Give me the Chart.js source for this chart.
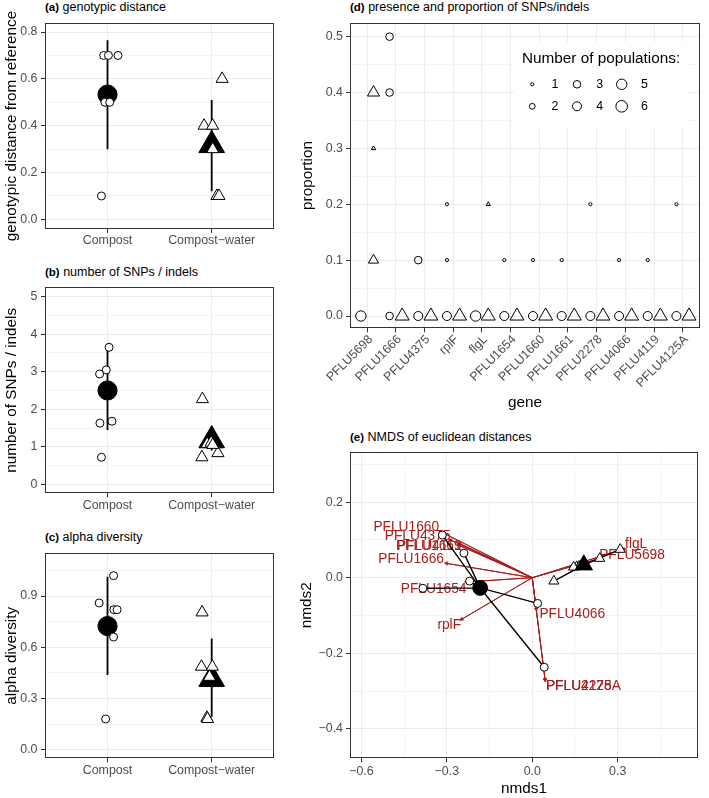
<!DOCTYPE html>
<html>
<head>
<meta charset="utf-8">
<script src="https://cdn.jsdelivr.net/npm/chart.js@4.4.1/dist/chart.umd.min.js"></script>
<style>
  body { margin: 0; background: #fff; width: 709px; height: 798px; position: relative; overflow: hidden;
         font-family: "Liberation Sans", Arial, Helvetica, sans-serif; }
  canvas { position: absolute; }
  .ttl { position: absolute; font-size: 12.5px; line-height: 16px; color: #000; white-space: nowrap; }
  .ttl b { font-size: 11.5px; }
</style>
</head>
<body>
<div class="ttl" style="left:45px;top:-1px"><b>(a)</b> genotypic distance</div>
<div class="ttl" style="left:45px;top:264px"><b>(b)</b> number of SNPs / indels</div>
<div class="ttl" style="left:45px;top:529px"><b>(c)</b> alpha diversity</div>
<div class="ttl" style="left:350px;top:-1px"><b>(d)</b> presence and proportion of SNPs/indels</div>
<div class="ttl" style="left:350px;top:429px"><b>(e)</b> NMDS of euclidean distances</div>

<canvas id="pa" width="290" height="260" style="left:0;top:0"></canvas>
<canvas id="pb" width="290" height="265" style="left:0;top:260px"></canvas>
<canvas id="pc" width="290" height="273" style="left:0;top:525px"></canvas>
<canvas id="pd" width="419" height="415" style="left:290px;top:0"></canvas>
<canvas id="pe" width="419" height="383" style="left:290px;top:415px"></canvas>

<script>
// ---- data ----
const groups = ["Compost", "Compost\u2212water"];

// (a) genotypic distance from reference
const distCompostX = [0.963, 1.009, 1.101, 0.975, 1.021, 0.942];
const distCompostY = [0.7, 0.7, 0.7, 0.5, 0.5, 0.1];
const distWaterX = [2.10, 1.927, 2.009, 2.01, 2.05, 2.07];
const distWaterY = [0.6, 0.4, 0.4, 0.3, 0.1, 0.1];
const distMean = [0.533, 0.317];
const distLow = [0.30, 0.12];
const distHigh = [0.765, 0.51];

// (b) number of SNPs / indels
const snpCompostX = [1.015, 0.988, 0.924, 0.927, 1.043, 0.942];
const snpCompostY = [3.65, 3.05, 2.94, 1.63, 1.68, 0.72];
const snpWaterX = [1.911, 1.957, 1.994, 1.906, 2.06, 2.01];
const snpWaterY = [2.27, 1.075, 1.11, 0.72, 0.83, 1.05];
const snpMean = [2.5, 1.17];
const snpLow = [1.45, 0.9];
const snpHigh = [3.58, 1.45];

// (c) alpha diversity
const alphaCompostX = [1.058, 0.920, 1.061, 1.092, 1.058, 0.982];
const alphaCompostY = [1.019, 0.859, 0.820, 0.820, 0.660, 0.180];
const alphaWaterX = [1.908, 1.902, 2.006, 1.979, 1.954, 1.96];
const alphaWaterY = [0.804, 0.486, 0.486, 0.427, 0.187, 0.18];
const alphaMean = [0.724, 0.414];
const alphaLow = [0.437, 0.193];
const alphaHigh = [1.013, 0.652];

// (d) presence and proportion of SNPs/indels
const genes = ["PFLU5698", "PFLU1666", "PFLU4375", "rplF", "flgL", "PFLU1654",
               "PFLU1660", "PFLU1661", "PFLU2278", "PFLU4066", "PFLU4119", "PFLU4125A"];
const propCompostGene = [1, 2, 2, 2, 3, 3, 4, 4, 4, 5, 6, 6, 7, 7, 8, 8, 9, 9, 10, 10, 11, 11, 12, 12];
const propCompost = [0, 0.5, 0.4, 0, 0.1, 0, 0.2, 0.1, 0, 0, 0.1, 0, 0.1, 0, 0.1, 0, 0.2, 0, 0.1, 0, 0.1, 0, 0.2, 0];
const popsCompost = [5, 3, 3, 3, 3, 4, 1, 1, 4, 5, 1, 4, 1, 4, 1, 4, 1, 4, 1, 4, 1, 4, 1, 4];
const propWaterGene = [1, 1, 1, 2, 3, 4, 5, 5, 6, 7, 8, 9, 10, 11, 12];
const propWater = [0.4, 0.3, 0.1, 0, 0, 0, 0.2, 0, 0, 0, 0, 0, 0, 0, 0];
const popsWater = [4, 1, 3, 5, 5, 5, 1, 5, 5, 5, 5, 5, 5, 5, 5];
const legendPops = [1, 2, 3, 4, 5, 6];

// (e) NMDS of euclidean distances
const nmdsCompostX = [-0.316, -0.240, -0.220, -0.384, 0.019, 0.042];
const nmdsCompostY = [0.113, 0.065, -0.009, -0.028, -0.068, -0.237];
const nmdsWaterX = [0.076, 0.156, 0.237, 0.309, 0.165, 0.145];
const nmdsWaterY = [-0.009, 0.029, 0.051, 0.075, 0.030, 0.028];
const nmdsCentroidX = [-0.183, 0.181];
const nmdsCentroidY = [-0.027, 0.034];
const loadingGenes = ["PFLU1660", "PFLU4375", "PFLU4119", "PFLU1661", "PFLU1666", "PFLU1654",
                      "rplF", "flgL", "PFLU5698", "PFLU4066", "PFLU2278", "PFLU4125A"];
const arrowX = [-0.322, -0.287, -0.254, -0.258, -0.301, -0.231, -0.248, 0.322, 0.232, 0.014, 0.045, 0.045];
const arrowY = [0.122, 0.100, 0.090, 0.086, 0.038, -0.011, -0.110, 0.076, 0.050, -0.083, -0.270, -0.270];
const labelX = [-0.327, -0.287, -0.248, -0.248, -0.310, -0.231, -0.250, 0.326, 0.235, 0.025, 0.048, 0.048];
const labelY = [0.135, 0.111, 0.084, 0.084, 0.049, -0.030, -0.125, 0.089, 0.060, -0.096, -0.286, -0.286];

// ---- styles ----
const FONT = "'Liberation Sans', Arial, Helvetica, sans-serif";
const GRID_MAJOR = '#EBEBEB';
const GRID_MINOR = '#F4F4F4';
const TICK_COLOR = '#4D4D4D';
const RED = '#A81C1C';
const sizeRadius = [1.6, 2.9, 3.8, 4.5, 5.2, 5.8];
const TRI = 1.55;

const zip = (xs, ys) => xs.map((x, i) => ({ x: x, y: ys[i] }));
const fmt1 = v => (v < 0 ? '\u2212' : '') + Math.abs(v).toFixed(1);

function makeTicks(major, minor) {
  return major.map(v => ({ value: v }))
    .concat(minor.map(v => ({ value: v, isMinor: true })))
    .sort((a, b) => a.value - b.value);
}

function linAxis(o) {
  return {
    type: 'linear', min: o.min, max: o.max,
    border: { display: false },
    grid: {
      color: c => (c.tick && c.tick.isMinor ? GRID_MINOR : GRID_MAJOR),
      lineWidth: 1,
      tickLength: 4,
      tickWidth: 1,
      tickColor: c => (c.tick && c.tick.isMinor ? 'rgba(0,0,0,0)' : '#333333')
    },
    ticks: {
      color: TICK_COLOR, font: { family: FONT, size: 12.4 },
      autoSkip: false, padding: o.pad, labelOffset: o.labelOffset || 0,
      maxRotation: o.rot || 0, minRotation: o.rot || 0,
      callback: (v, i, ticks) => (ticks[i] && ticks[i].isMinor ? '' : o.fmt(v))
    },
    afterBuildTicks: s => { s.ticks = makeTicks(o.major, o.minor || []); },
    afterFit: s => {
      if (s.isHorizontal()) { s.height = o.size; s.paddingLeft = 0; s.paddingRight = 0; }
      else { s.width = o.size; s.paddingTop = 0; s.paddingBottom = 0; }
    },
    title: o.title
      ? { display: true, text: o.title, color: '#000', font: { family: FONT, size: 15.3 }, padding: o.titlePad }
      : { display: false }
  };
}

const framePlugin = {
  id: 'frame',
  afterDatasetsDraw(chart) {
    const { ctx, chartArea: a } = chart;
    const l = Math.round(a.left), t = Math.round(a.top), r = Math.round(a.right), b = Math.round(a.bottom);
    ctx.save();
    ctx.strokeStyle = '#333333';
    ctx.lineWidth = 1;
    ctx.strokeRect(l + 0.5, t + 0.5, r - l - 1, b - t - 1);
    ctx.restore();
  }
};

function baseOptions(pad, x, y) {
  return {
    responsive: false, animation: false, devicePixelRatio: 1, events: [],
    layout: { padding: pad },
    plugins: { legend: { display: false }, tooltip: { enabled: false } },
    scales: { x: x, y: y }
  };
}

function groupPanel(id, g) {
  const bar = (k) => ({
    data: [{ x: k + 1, y: g.low[k] }, { x: k + 1, y: g.high[k] }],
    showLine: true, borderColor: '#000', borderWidth: 1.8, pointRadius: 0, order: 4
  });
  const mark = (data, style, r, fill, order) => ({
    data: data, pointStyle: style, pointRadius: r,
    pointBackgroundColor: fill, pointBorderColor: '#000', pointBorderWidth: 1, order: order
  });
  new Chart(document.getElementById(id), {
    type: 'scatter',
    data: {
      datasets: [
        bar(0), bar(1),
        mark([{ x: 1, y: g.mean[0] }], 'circle', 9.6, '#000', 3),
        mark([{ x: 2, y: g.mean[1] }], 'triangle', 14.8, '#000', 3),
        mark(zip(g.cx, g.cy), 'circle', 4, '#fff', 1),
        mark(zip(g.wx, g.wy), 'triangle', 7, '#fff', 1)
      ]
    },
    options: baseOptions(
      { left: 0, top: g.top, right: 6, bottom: 0 },
      linAxis({ min: 0.4, max: 2.6, major: [1, 2], fmt: v => groups[v - 1], size: g.xh, pad: 0.5 }),
      linAxis({ min: g.min, max: g.max, major: g.major, minor: g.minor, fmt: g.fmt, size: 45, pad: 3.5,
                title: g.title, titlePad: { top: 2.5, bottom: 0 } })
    ),
    plugins: [framePlugin]
  });
}

groupPanel('pa', {
  cx: distCompostX, cy: distCompostY, wx: distWaterX, wy: distWaterY,
  mean: distMean, low: distLow, high: distHigh,
  min: -0.041, max: 0.8385, major: [0, 0.2, 0.4, 0.6, 0.8], minor: [0.1, 0.3, 0.5, 0.7],
  fmt: fmt1, title: 'genotypic distance from reference', top: 23, xh: 31
});

groupPanel('pb', {
  cx: snpCompostX, cy: snpCompostY, wx: snpWaterX, wy: snpWaterY,
  mean: snpMean, low: snpLow, high: snpHigh,
  min: -0.24, max: 5.25, major: [0, 1, 2, 3, 4, 5], minor: [0.5, 1.5, 2.5, 3.5, 4.5],
  fmt: v => String(v), title: 'number of SNPs / indels', top: 27.3, xh: 31.7
});

groupPanel('pc', {
  cx: alphaCompostX, cy: alphaCompostY, wx: alphaWaterX, wy: alphaWaterY,
  mean: alphaMean, low: alphaLow, high: alphaHigh,
  min: -0.05, max: 1.15, major: [0, 0.3, 0.6, 0.9], minor: [0.15, 0.45, 0.75, 1.05],
  fmt: fmt1, title: 'alpha diversity', top: 28.3, xh: 39.7
});

// (d) size legend drawn inside the panel
const sizeLegendPlugin = {
  id: 'sizeLegend',
  afterDraw(chart) {
    const { ctx, chartArea: a } = chart;
    const x0 = a.left + 164, y0 = a.top + 19.3;
    ctx.save();
    ctx.fillStyle = '#fff';
    ctx.fillRect(x0, y0, 174, 85);
    ctx.fillStyle = '#000';
    ctx.textBaseline = 'middle';
    ctx.textAlign = 'left';
    ctx.font = '15.3px ' + FONT;
    ctx.fillText('Number of populations:', x0 + 8, y0 + 16.3);
    ctx.font = '12.4px ' + FONT;
    ctx.strokeStyle = '#000';
    ctx.lineWidth = 1;
    legendPops.forEach((n, i) => {
      const col = Math.floor(i / 2), row = i % 2;
      const sx = x0 + 18.3 + col * 44.7, sy = y0 + 42.3 + row * 22;
      ctx.beginPath();
      ctx.arc(sx, sy, sizeRadius[n - 1], 0, Math.PI * 2);
      ctx.stroke();
      ctx.fillText(String(n), sx + 19.2, sy);
    });
    ctx.restore();
  }
};

new Chart(document.getElementById('pd'), {
  type: 'scatter',
  data: {
    datasets: [
      {
        data: propCompost.map((p, i) => ({ x: propCompostGene[i] - 0.22, y: p })),
        pointStyle: 'circle',
        pointRadius: propCompost.map((p, i) => sizeRadius[popsCompost[i] - 1]),
        pointBackgroundColor: 'rgba(0,0,0,0)', pointBorderColor: '#000', pointBorderWidth: 1
      },
      {
        data: propWater.map((p, i) => ({ x: propWaterGene[i] + 0.22, y: p })),
        pointStyle: 'triangle',
        pointRadius: propWater.map((p, i) => sizeRadius[popsWater[i] - 1] * TRI),
        pointBackgroundColor: 'rgba(0,0,0,0)', pointBorderColor: '#000', pointBorderWidth: 1
      }
    ]
  },
  options: baseOptions(
    { left: 0, top: 22.7, right: 1, bottom: 0 },
    linAxis({ min: 0.4, max: 12.6, major: genes.map((g, i) => i + 1), fmt: v => genes[v - 1],
              size: 86.7, pad: 0, rot: 45, labelOffset: 3.5,
              title: 'gene', titlePad: { top: 0, bottom: 2.8 } }),
    linAxis({ min: -0.022, max: 0.525, major: [0, 0.1, 0.2, 0.3, 0.4, 0.5],
              minor: [0.05, 0.15, 0.25, 0.35, 0.45], fmt: fmt1, size: 60, pad: 3,
              title: 'proportion', titlePad: { top: 8.8, bottom: 0 } })
  ),
  plugins: [framePlugin, sizeLegendPlugin]
});

// (e) gene labels drawn right after the red arrows, under the black lines and points
const loadingLabelsPlugin = {
  id: 'loadingLabels',
  afterDatasetDraw(chart, args) {
    if (args.index !== 0) return;
    const { ctx, scales } = chart;
    ctx.save();
    ctx.font = '13.75px ' + FONT;
    ctx.fillStyle = RED;
    ctx.textBaseline = 'middle';
    loadingGenes.forEach((g, i) => {
      ctx.textAlign = labelX[i] < 0 ? 'right' : 'left';
      ctx.fillText(g, scales.x.getPixelForValue(labelX[i]), scales.y.getPixelForValue(labelY[i]));
    });
    ctx.restore();
  }
};

const spider = (xs, ys, k) => xs.flatMap((x, i) => [
  { x: nmdsCentroidX[k], y: nmdsCentroidY[k] }, { x: x, y: ys[i] }
]);

new Chart(document.getElementById('pe'), {
  type: 'scatter',
  data: {
    datasets: [
      {
        data: arrowX.flatMap((x, i) => [{ x: 0, y: 0 }, { x: x, y: arrowY[i] }]),
        showLine: true, borderColor: RED, borderWidth: 1,
        pointStyle: 'triangle',
        pointRadius: c => (c.dataIndex % 2 ? 2.2 : 0),
        pointBackgroundColor: RED, pointBorderColor: RED, pointBorderWidth: 0.5,
        pointRotation: c => {
          if (c.dataIndex % 2 === 0 || !c.raw) return 0;
          const sx = c.chart.scales.x, sy = c.chart.scales.y;
          const dx = sx.getPixelForValue(c.raw.x) - sx.getPixelForValue(0);
          const dy = sy.getPixelForValue(c.raw.y) - sy.getPixelForValue(0);
          return Math.atan2(dx, -dy) * 180 / Math.PI;
        },
        order: 10
      },
      { data: spider(nmdsCompostX, nmdsCompostY, 0), showLine: true, borderColor: '#000', borderWidth: 1.4, pointRadius: 0, order: 6 },
      { data: spider(nmdsWaterX, nmdsWaterY, 1), showLine: true, borderColor: '#000', borderWidth: 1.4, pointRadius: 0, order: 6 },
      { data: zip(nmdsCompostX, nmdsCompostY), pointStyle: 'circle', pointRadius: 4,
        pointBackgroundColor: '#fff', pointBorderColor: '#000', pointBorderWidth: 1, order: 4 },
      { data: zip(nmdsWaterX, nmdsWaterY), pointStyle: 'triangle', pointRadius: 5.8,
        pointBackgroundColor: '#fff', pointBorderColor: '#000', pointBorderWidth: 1, order: 4 },
      { data: [{ x: nmdsCentroidX[0], y: nmdsCentroidY[0] }], pointStyle: 'circle', pointRadius: 7.4,
        pointBackgroundColor: '#000', pointBorderColor: '#000', pointBorderWidth: 1, order: 2 },
      { data: [{ x: nmdsCentroidX[1], y: nmdsCentroidY[1] }], pointStyle: 'triangle', pointRadius: 10,
        pointBackgroundColor: '#000', pointBorderColor: '#000', pointBorderWidth: 1, order: 2 }
    ]
  },
  options: baseOptions(
    { left: 0, top: 37.3, right: 1, bottom: 0 },
    linAxis({ min: -0.64, max: 0.582, major: [-0.6, -0.3, 0, 0.3], minor: [-0.45, -0.15, 0.15, 0.45],
              fmt: fmt1, size: 39.7, pad: 1.5, title: 'nmds1', titlePad: { top: 0, bottom: 0.5 } }),
    linAxis({ min: -0.478, max: 0.332, major: [-0.4, -0.2, 0, 0.2], minor: [-0.3, -0.1, 0.1, 0.3],
              fmt: fmt1, size: 60, pad: 3, title: 'nmds2', titlePad: { top: 7.5, bottom: 0 } })
  ),
  plugins: [framePlugin, loadingLabelsPlugin]
});
</script>
</body>
</html>
